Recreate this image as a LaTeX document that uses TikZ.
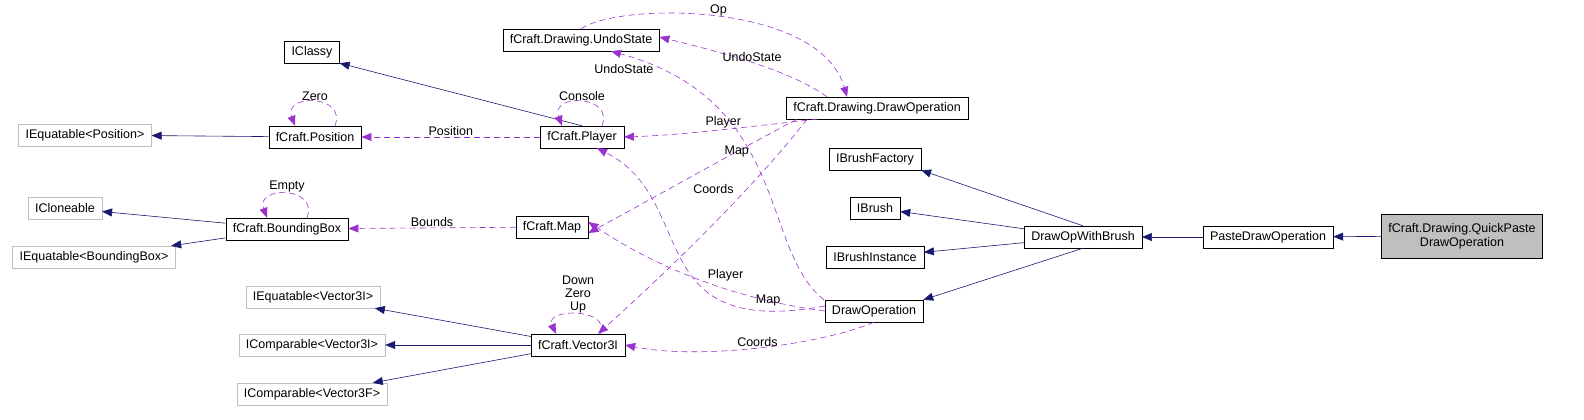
\documentclass[tikz,border=0pt]{standalone}
\usepackage{fontspec}
\setmainfont{Liberation Sans}
\usepackage{xcolor}
\usetikzlibrary{arrows.meta, positioning}

\definecolor{inhcol}{RGB}{25,25,112}
\definecolor{usecol}{RGB}{154,50,205}
\definecolor{extcol}{RGB}{191,191,191}

\begin{document}
\begin{tikzpicture}[
    x=1pt, y=-1pt,
    cls/.style={rectangle, draw=black, fill=white, minimum height=22pt, inner xsep=7pt, inner ysep=2pt, font=\fontsize{12.5}{14}\selectfont},
    ext/.style={cls, draw=extcol},
    main/.style={cls, fill=extcol, align=center, minimum height=44pt},
    inh/.style={-{Triangle[length=10pt,width=8pt]}, inhcol, semithick},
    use/.style={-{Triangle[length=10pt,width=8pt]}, usecol, semithick, dashed, dash pattern=on 6pt off 4pt},
    lbl/.style={text=black, font=\fontsize{12.5}{13}\selectfont, inner sep=1pt, align=center}
]
\useasboundingbox (0,0) rectangle (1584,420);

% Classes
\node[cls] (classy) at (312,52) {IClassy};
\node[cls] (undo) at (581,40) {fCraft.Drawing.UndoState};
\node[cls] (drawop) at (877,108) {fCraft.Drawing.DrawOperation};
\node[ext] (eqpos) at (85,135) {IEquatable<Position>};
\node[cls] (pos) at (315,137) {fCraft.Position};
\node[cls] (player) at (582,137) {fCraft.Player};
\node[cls] (bfac) at (875,159) {IBrushFactory};
\node[ext] (clone) at (65,208) {ICloneable};
\node[cls] (bbox) at (287,229) {fCraft.BoundingBox};
\node[ext] (eqbb) at (94,257) {IEquatable<BoundingBox>};
\node[cls] (map) at (552,227) {fCraft.Map};
\node[cls] (brush) at (875,208) {IBrush};
\node[cls] (opbrush) at (1083,237) {DrawOpWithBrush};
\node[cls] (paste) at (1268,237) {PasteDrawOperation};
\node[main] (quick) at (1462,236) {fCraft.Drawing.QuickPaste\\DrawOperation};
\node[cls] (binst) at (875,257) {IBrushInstance};
\node[ext] (eqvec) at (313,297) {IEquatable<Vector3I>};
\node[cls] (dop) at (874,311) {DrawOperation};
\node[ext] (cmpvi) at (312,345) {IComparable<Vector3I>};
\node[cls] (vec) at (578,345) {fCraft.Vector3I};
\node[ext] (cmpvf) at (312,394) {IComparable<Vector3F>};

% Inheritance
\draw[inh] (player.north) -- (classy.south east);
\draw[inh] (pos) -- (eqpos);
\draw[inh] (bbox) -- (clone);
\draw[inh] (bbox) -- (eqbb);
\draw[inh] (vec) -- (eqvec);
\draw[inh] (vec) -- (cmpvi);
\draw[inh] (vec) -- (cmpvf);
\draw[inh] (opbrush.north) -- (bfac.south east);
\draw[inh] (opbrush) -- (brush);
\draw[inh] (opbrush) -- (binst);
\draw[inh] (opbrush.south) -- (dop.north east);
\draw[inh] (paste) -- (opbrush);
\draw[inh] (quick) -- (paste);

% Usage
\draw[use] ([xshift=20]pos.north) .. controls +(12,-32) and +(-12,-32) .. node[lbl, above] {Zero} ([xshift=-20]pos.north);
\draw[use] ([xshift=20]player.north) .. controls +(12,-32) and +(-12,-32) .. node[lbl, above] {Console} ([xshift=-20]player.north);
\draw[use] ([xshift=20]bbox.north) .. controls +(12,-32) and +(-12,-32) .. node[lbl, above] {Empty} ([xshift=-20]bbox.north);
\draw[use] ([xshift=22]vec.north) .. controls +(12,-26) and +(-12,-26) .. node[lbl, above] {Down\\Zero\\Up} ([xshift=-22]vec.north);
\draw[use] (player) -- node[lbl, above] {Position} (pos);
\draw[use] (map) -- node[lbl, above] {Bounds} (bbox);
\draw[use] (undo.north) .. controls (620,2) and (820,2) .. node[lbl, above] {Op} ([xshift=-30]drawop.north);
\draw[use] ([xshift=-50]drawop.north) .. controls (790,70) and (720,52) .. node[lbl, pos=0.5, above] {UndoState} ([yshift=3]undo.east);
\draw[use] ([xshift=-60]drawop.south) .. controls (720,130) and (680,135) .. node[lbl, pos=0.4, above] {Player} (player.east);
\draw[use] ([xshift=-80]drawop.south) .. controls (720,160) and (650,200) .. node[lbl, pos=0.2, below left=2pt] {Map} ([yshift=-6]map.east);
\draw[use] ([xshift=-70]drawop.south) .. controls (760,180) and (680,260) .. node[lbl, pos=0.35, left=12pt] {Coords} ([xshift=20]vec.north);
\draw[use] ([xshift=-50]dop.north) .. controls (760,250) and (790,100) .. node[lbl, pos=0.9, left=4pt] {UndoState} ([xshift=30]undo.south);
\draw[use] (dop.west) .. controls (740,300) and (660,270) .. node[lbl, pos=0.4, above=6pt] {Player} ([yshift=5]map.east);
\draw[use] ([yshift=5]dop.west) .. controls (640,340) and (700,200) .. node[lbl, pos=0.12, above=4pt] {Map} ([xshift=15]player.south);
\draw[use] (dop.south) .. controls (820,345) and (700,360) .. node[lbl, pos=0.5, above] {Coords} (vec.east);
\end{tikzpicture}
\end{document}
